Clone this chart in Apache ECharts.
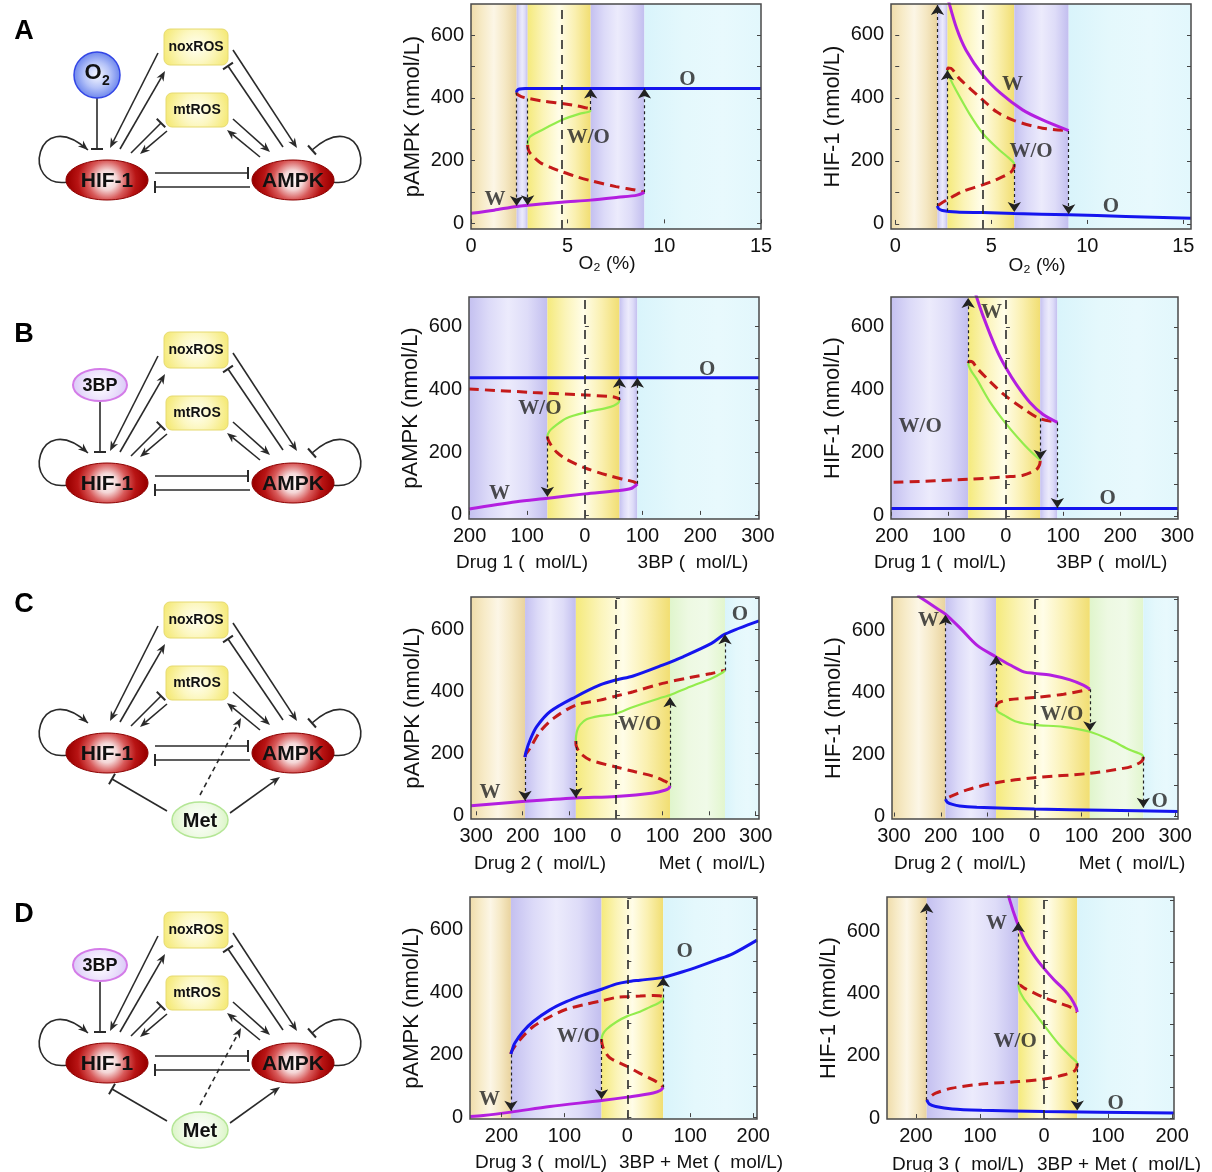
<!DOCTYPE html>
<html>
<head>
<meta charset="utf-8">
<title>HIF-1 / AMPK bistability</title>
<script src="https://cdn.jsdelivr.net/npm/echarts@6.0.0/dist/echarts.min.js"></script>
<style>
  html, body { margin: 0; padding: 0; background: #fff; }
  #chart { width: 1212px; height: 1172px; }
</style>
</head>
<body>
<div id="chart"></div>
<script>
// ---------- tick labels ----------
const xTicksA = [0, 5, 10, 15];
const xTicksB = [-200, -100, 0, 100, 200, 300];
const xTicksC = [-300, -200, -100, 0, 100, 200, 300];
const xTicksD = [-200, -100, 0, 100, 200];
const yTicks = [0, 200, 400, 600];
const yMinorTicks = [0, 100, 200, 300, 400, 500, 600, 700];
const panelLetters = ['A', 'B', 'C', 'D'];

// ---------- row A : O2 (%) ----------
const aL_bands = [[0, 2.36, 'tan'], [2.36, 2.93, 'lav'], [2.93, 6.19, 'yel'], [6.19, 8.97, 'lav'], [8.97, 15, 'cyan']];
const aL_blue = [[2.36, 417], [2.38, 423], [2.5, 428], [2.8, 430], [3.5, 430], [15, 430]];
const aL_redHi = [[2.36, 417], [2.4, 411], [2.6, 404], [2.97, 398], [3.8, 389], [4.69, 382], [5.5, 374], [5.95, 368], [6.15, 365], [6.19, 361]];
const aL_green = [[2.93, 250], [2.95, 262], [3.05, 276], [3.57, 294], [4.69, 329], [5.6, 349], [6.0, 354], [6.15, 357], [6.19, 361]];
const aL_redLo = [[2.93, 250], [2.95, 238], [3.05, 224], [3.57, 194], [4.2, 176], [4.69, 165], [5.5, 148], [6.19, 136], [7.5, 117], [8.5, 106], [8.97, 99]];
const aL_purple = [[0, 32], [1.2, 42], [2.36, 54], [4.69, 67], [6.19, 74], [7.6, 83], [8.6, 90], [8.97, 99]];
const aL_jumps = [[2.36, 417, 55], [2.93, 398, 58], [6.19, 361, 430], [8.97, 99, 430]];
const aL_labels = [[1.24, 76, 'W'], [6.07, 274, 'W/O'], [11.2, 457, 'O']];

const aR_bands = [[-0.22, 2.2, 'tan'], [2.2, 2.72, 'lav'], [2.72, 6.2, 'yel'], [6.2, 9.03, 'lav'], [9.03, 15.4, 'cyan']];
const aR_purple = [[2.7, 730], [2.81, 700], [3.2, 620], [3.68, 552], [4.55, 473], [5.5, 414], [6.63, 362], [7.67, 330], [9.03, 296]];
const aR_redHi = [[2.72, 488], [2.75, 495], [2.9, 494], [3.33, 462], [4.55, 394], [5.3, 355], [6.2, 328], [7.67, 304], [9.03, 296]];
const aR_green = [[2.72, 488], [2.74, 478], [2.85, 462], [3.16, 425], [3.85, 351], [4.55, 288], [5.24, 245], [5.94, 208], [6.15, 196], [6.2, 190]];
const aR_redLo = [[6.2, 190], [6.17, 178], [6.0, 163], [5.24, 140], [4.55, 124], [3.5, 103], [2.73, 78], [2.3, 62], [2.2, 57]];
const aR_blue = [[2.2, 57], [2.25, 49], [2.45, 43], [3.2, 38], [4.55, 36], [6.2, 33], [9.03, 29], [12, 24], [15.4, 18]];
const aR_jumps = [[2.2, 57, 695], [2.72, 40, 488], [6.2, 190, 38], [9.03, 295, 31]];
const aR_labels = [[6.11, 441, 'W'], [7.07, 230, 'W/O'], [11.23, 55, 'O']];

// ---------- row B : Drug 1 / 3BP ----------
const bL_bands = [[-201, -65, 'lav'], [-65, 60, 'yel'], [60, 91, 'lav'], [91, 302, 'cyan']];
const bL_blue = [[-201, 437], [302, 437]];
const bL_redHi = [[-201, 401], [-90, 390], [0, 382], [43, 377], [52, 375], [58, 371], [60, 365]];
const bL_green = [[60, 365], [58, 357], [50, 348], [38, 341], [0, 326], [-32, 308], [-52, 283], [-60, 270], [-64, 258], [-65, 250]];
const bL_redLo = [[-65, 250], [-64, 241], [-60, 226], [-49, 200], [-32, 177], [0, 150], [38, 127], [70, 112], [84, 106], [91, 99]];
const bL_purple = [[-201, 19], [-119, 42], [-64, 53], [0, 67], [55, 77], [80, 84], [91, 99]];
const bL_jumps = [[-65, 250, 58], [60, 365, 437], [91, 99, 437]];
const bL_labels = [[-148, 69, 'W'], [-78, 340, 'W/O'], [212, 464, 'O']];

const bR_bands = [[-201, -66, 'lav'], [-66, 60, 'yel'], [60, 90, 'lav'], [90, 301, 'cyan']];
const bR_blue = [[-201, 23], [301, 23]];
const bR_purple = [[-54, 710], [-40, 635], [-16, 526], [0, 470], [19, 415], [42, 360], [65, 322], [90, 297]];
const bR_redHi = [[-66, 485], [-64, 491], [-58, 488], [-51, 470], [-28, 427], [0, 380], [30, 341], [59, 309], [90, 297]];
const bR_green = [[-66, 485], [-65, 476], [-60, 458], [-51, 434], [-28, 362], [0, 293], [30, 230], [52, 190], [59, 180], [60, 175]];
const bR_redLo = [[60, 175], [59, 163], [55, 150], [48, 141], [30, 129], [0, 124], [-66, 116], [-201, 106]];
const bR_jumps = [[-66, 485, 692], [60, 309, 178], [90, 297, 25]];
const bR_labels = [[-25, 644, 'W'], [-150, 283, 'W/O'], [178, 55, 'O']];

// ---------- row C : Drug 2 / Met ----------
const cL_bands = [[-311, -195, 'tan'], [-195, -86, 'lav'], [-86, 116, 'yel'], [116, 234, 'grn'], [234, 307, 'cyan']];
const cL_blue = [[-195, 188], [-193, 205], [-184, 244], [-170, 286], [-141, 335], [-86, 383], [-34, 421], [0, 437], [37, 450], [100, 485], [144, 512], [205, 555], [234, 585], [307, 628]];
const cL_redHi = [[-195, 188], [-194, 196], [-184, 217], [-163, 270], [-134, 313], [-86, 356], [-34, 372], [0, 385], [37, 399], [100, 426], [159, 445], [205, 458], [228, 466], [234, 468]];
const cL_green = [[234, 468], [230, 462], [205, 442], [159, 415], [116, 388], [100, 381], [37, 350], [0, 328], [-34, 321], [-63, 310], [-77, 292], [-83, 274], [-85.5, 256], [-86, 240]];
const cL_redLo = [[-86, 240], [-85.5, 226], [-82, 213], [-77, 201], [-56, 179], [0, 156], [37, 142], [80, 126], [105, 110], [114, 102], [116, 95]];
const cL_purple = [[-311, 31], [-195, 45], [-86, 56], [0, 61], [80, 72], [105, 81], [114, 88], [116, 95]];
const cL_jumps = [[-195, 185, 47], [-86, 240, 57], [116, 95, 381], [234, 468, 585]];
const cL_labels = [[-270, 72, 'W'], [51, 292, 'W/O'], [266, 649, 'O']];

const cR_bands = [[-304, -190, 'tan'], [-190, -82, 'lav'], [-82, 118, 'yel'], [118, 232, 'grn'], [232, 306, 'cyan']];
const cR_purple = [[-250, 712], [-208, 670], [-190, 652], [-158, 606], [-123, 552], [-82, 514], [-52, 488], [-23, 466], [0, 461], [33, 456], [76, 440], [104, 423], [118, 410]];
const cR_redHi = [[-82, 352], [-80, 362], [-75, 368], [-52, 377], [0, 383], [62, 394], [118, 410]];
const cR_green = [[-82, 352], [-80, 342], [-77, 336], [-66, 327], [-38, 305], [0, 295], [62, 289], [118, 273], [161, 247], [204, 214], [222, 204], [230, 198], [232, 192]];
const cR_redLo = [[232, 192], [231, 183], [226, 175], [210, 163], [189, 155], [118, 139], [0, 125], [-82, 109], [-144, 86], [-180, 64], [-190, 56]];
const cR_blue = [[-190, 56], [-186, 46], [-175, 39], [-160, 34], [-123, 30], [0, 24], [150, 20], [306, 16]];
const cR_jumps = [[-190, 56, 650], [-82, 352, 518], [118, 410, 275], [232, 193, 28]];
const cR_labels = [[-226, 632, 'W'], [58, 327, 'W/O'], [267, 48, 'O']];

// ---------- row D : Drug 3 / 3BP + Met ----------
const dL_bands = [[-250, -185, 'tan'], [-185, -41, 'lav'], [-41, 57, 'yel'], [57, 206, 'cyan']];
const dL_blue = [[-185, 202], [-183, 215], [-179, 236], [-166, 273], [-150, 305], [-123, 343], [-97, 369], [-70, 390], [-41, 409], [-17, 426], [0, 433], [20, 438], [57, 447], [88, 465], [115, 483], [141, 502], [168, 523], [206, 566]];
const dL_redHi = [[-185, 202], [-184, 210], [-171, 247], [-150, 289], [-123, 321], [-97, 345], [-70, 359], [-41, 372], [-17, 383], [0, 385], [20, 387], [41, 389], [50, 388], [56, 386], [57, 382]];
const dL_green = [[57, 382], [56, 374], [49, 364], [35, 351], [20, 337], [0, 323], [-17, 305], [-33, 281], [-39, 265], [-41, 250]];
const dL_redLo = [[-41, 250], [-40.5, 237], [-38, 220], [-28, 190], [0, 162], [20, 140], [41, 119], [53, 104], [57, 95]];
const dL_purple = [[-250, 2], [-229, 5], [-185, 16], [-123, 34], [-41, 53], [0, 64], [41, 77], [53, 86], [57, 95]];
const dL_jumps = [[-185, 200, 20], [-41, 250, 57], [57, 95, 447]];
const dL_labels = [[-219, 55, 'W'], [-78, 257, 'W/O'], [91, 529, 'O']];

const dR_bands = [[-245, -183, 'tan'], [-183, -40, 'lav'], [-40, 52, 'yel'], [52, 203, 'cyan']];
const dR_purple = [[-56, 725], [-54, 703], [-43, 634], [-30, 570], [-14, 517], [0, 480], [16, 443], [32, 411], [42, 385], [50, 355], [52, 340]];
const dR_redHi = [[-40, 428], [-37, 426], [-30, 416], [-14, 400], [0, 387], [22, 370], [42, 355], [52, 340]];
const dR_green = [[-40, 428], [-38, 408], [-33, 388], [-30, 378], [-14, 336], [0, 298], [22, 240], [42, 197], [50, 182], [52, 176]];
const dR_redLo = [[52, 176], [51.5, 165], [48, 152], [32, 139], [0, 125], [-40, 117], [-97, 109], [-143, 96], [-169, 80], [-180, 64], [-183, 58]];
const dR_blue = [[-183, 58], [-179, 45], [-169, 37], [-143, 29], [-97, 25], [0, 21], [203, 16]];
const dR_jumps = [[-183, 58, 690], [-40, 428, 628], [52, 176, 24]];
const dR_labels = [[-74, 624, 'W'], [-45, 245, 'W/O'], [112, 48, 'O']];

// ---------- layout ----------
const FONT = '"Liberation Sans", Arial, Helvetica, sans-serif';
const SERIF = '"Liberation Serif", "Times New Roman", serif';
const INK = '#2a2a2a';

const panels = [
  { box: [471, 4, 290, 225], x: [0, 15], y: [-18, 699], xt: xTicksA, yName: 'pAMPK (nmol/L)', ref: 4.7,
    bands: aL_bands, blue: aL_blue, redHi: aL_redHi, green: aL_green, redLo: aL_redLo, purple: aL_purple, jumps: aL_jumps, labels: aL_labels,
    xNames: [['O₂ (%)', 607, 264]] },
  { box: [891, 4, 300, 225], x: [-0.22, 15.4], y: [-16, 698], xt: xTicksA, yName: 'HIF-1 (nmol/L)', ref: 4.55,
    bands: aR_bands, blue: aR_blue, redHi: aR_redHi, green: aR_green, redLo: aR_redLo, purple: aR_purple, jumps: aR_jumps, labels: aR_labels,
    xNames: [['O₂ (%)', 1037, 266]] },
  { box: [469, 297, 290, 222], x: [-201, 302], y: [-13, 694], xt: xTicksB, yName: 'pAMPK (nmol/L)', ref: 0,
    bands: bL_bands, blue: bL_blue, redHi: bL_redHi, green: bL_green, redLo: bL_redLo, purple: bL_purple, jumps: bL_jumps, labels: bL_labels,
    xNames: [['Drug 1 (  mol/L)', 522, 563], ['3BP (  mol/L)', 693, 563]] },
  { box: [891, 297, 287, 222], x: [-201, 301], y: [-10, 695], xt: xTicksB, yName: 'HIF-1 (nmol/L)', ref: 0,
    bands: bR_bands, blue: bR_blue, redHi: bR_redHi, green: bR_green, redLo: bR_redLo, purple: bR_purple, jumps: bR_jumps, labels: bR_labels,
    xNames: [['Drug 1 (  mol/L)', 940, 563], ['3BP (  mol/L)', 1112, 563]] },
  { box: [471, 597, 288, 222], x: [-311, 307], y: [-12, 705], xt: xTicksC, yName: 'pAMPK (nmol/L)', ref: 0,
    bands: cL_bands, blue: cL_blue, redHi: cL_redHi, green: cL_green, redLo: cL_redLo, purple: cL_purple, jumps: cL_jumps, labels: cL_labels,
    xNames: [['Drug 2 (  mol/L)', 540, 864], ['Met (  mol/L)', 712, 864]] },
  { box: [892, 597, 286, 222], x: [-304, 306], y: [-8, 707], xt: xTicksC, yName: 'HIF-1 (nmol/L)', ref: 0,
    bands: cR_bands, blue: cR_blue, redHi: cR_redHi, green: cR_green, redLo: cR_redLo, purple: cR_purple, jumps: cR_jumps, labels: cR_labels,
    xNames: [['Drug 2 (  mol/L)', 960, 864], ['Met (  mol/L)', 1132, 864]] },
  { box: [470, 897, 287, 222], x: [-250, 206], y: [-6, 704], xt: xTicksD, yName: 'pAMPK (nmol/L)', ref: 0,
    bands: dL_bands, blue: dL_blue, redHi: dL_redHi, green: dL_green, redLo: dL_redLo, purple: dL_purple, jumps: dL_jumps, labels: dL_labels,
    xNames: [['Drug 3 (  mol/L)', 541, 1163], ['3BP + Met (  mol/L)', 701, 1163]] },
  { box: [887, 897, 287, 222], x: [-245, 203], y: [-3, 709], xt: xTicksD, yName: 'HIF-1 (nmol/L)', ref: 0,
    bands: dR_bands, blue: dR_blue, redHi: dR_redHi, green: dR_green, redLo: dR_redLo, purple: dR_purple, jumps: dR_jumps, labels: dR_labels,
    xNames: [['Drug 3 (  mol/L)', 958, 1165], ['3BP + Met (  mol/L)', 1119, 1165]] }
];

function hGrad(colors) {
  return { type: 'linear', x: 0, y: 0, x2: 1, y2: 0,
    colorStops: colors.map((c, i) => ({ offset: i / (colors.length - 1), color: c })) };
}
function rGrad(colors, r) {
  return { type: 'radial', x: 0.5, y: 0.5, r: r,
    colorStops: colors.map((c, i) => ({ offset: i / (colors.length - 1), color: c })) };
}
const BAND = {
  tan: hGrad(['#efdcaa', '#f7ebc8', '#fcf6e6', '#f5e8c4', '#e9d39e']),
  lav: hGrad(['#c4c0f0', '#dcdaf8', '#ecebfc', '#dedcf8', '#c2beef']),
  yel: hGrad(['#f5ea7c', '#fbf4b8', '#fffde8', '#faf0b0', '#f1de72']),
  grn: hGrad(['#e0f5cc', '#edf9e2', '#f0fae8', '#e2f6ce']),
  cyan: hGrad(['#d9f4fb', '#e4f8fc', '#e8f9fd', '#e2f7fc'])
};

const grids = [], xAxes = [], yAxes = [], series = [], graphics = [];

function curve(i, data, color, width, dashed, z) {
  return { type: 'line', xAxisIndex: i, yAxisIndex: 2 * i, data: data, smooth: 0.3,
    showSymbol: false, symbol: 'none', silent: true, z: z,
    lineStyle: { color: color, width: width, type: dashed ? [10, 6] : 'solid', cap: 'butt' } };
}

panels.forEach((p, i) => {
  const [left, top, width, height] = p.box;
  grids.push({ left, top, width, height, show: true, borderColor: '#4a4a4a', borderWidth: 1.5,
    backgroundColor: 'rgba(0,0,0,0)', z: 10 });
  const minor = yMinorTicks.filter(v => v >= p.y[0] && v <= p.y[1]);
  xAxes.push({ type: 'value', gridIndex: i, min: p.x[0], max: p.x[1], z: 12,
    axisLine: { show: false }, splitLine: { show: false },
    axisTick: { show: true, inside: true, length: 4, customValues: p.xt, lineStyle: { color: '#444' } },
    axisLabel: { customValues: p.xt, formatter: v => String(Math.abs(v)), fontSize: 20, color: '#111',
      fontFamily: FONT, margin: 7 } });
  yAxes.push({ type: 'value', gridIndex: i, min: p.y[0], max: p.y[1], z: 12,
    axisLine: { show: false }, splitLine: { show: false },
    axisTick: { show: true, inside: true, length: 4, customValues: minor, lineStyle: { color: '#444' } },
    axisLabel: { customValues: yTicks, fontSize: 20, color: '#111', fontFamily: FONT, margin: 7 },
    name: p.yName, nameLocation: 'middle', nameGap: 47,
    nameTextStyle: { fontSize: 22, color: '#111', fontFamily: FONT } });
  yAxes.push({ type: 'value', gridIndex: i, position: 'right', min: p.y[0], max: p.y[1], z: 12,
    axisLine: { show: false }, splitLine: { show: false }, axisLabel: { show: false },
    axisTick: { show: true, inside: true, length: 4, customValues: minor, lineStyle: { color: '#444' } } });

  // shaded regime bands
  series.push({ type: 'line', xAxisIndex: i, yAxisIndex: 2 * i, data: [], silent: true, z: 1,
    markArea: { silent: true,
      data: p.bands.map(b => [{ xAxis: b[0], itemStyle: { color: BAND[b[2]], opacity: 1, borderWidth: 0 } }, { xAxis: b[1] }]) } });
  // reference dashed line
  series.push({ type: 'line', xAxisIndex: i, yAxisIndex: 2 * i, data: [], silent: true, z: 2,
    markLine: { silent: true, symbol: ['none', 'none'], label: { show: false },
      lineStyle: { color: '#2a2a2a', width: 1.6, type: [9, 6] }, data: [{ xAxis: p.ref }] } });

  series.push(curve(i, p.redHi, '#c41a1a', 3, true, 3));
  series.push(curve(i, p.redLo, '#c41a1a', 3, true, 3));
  series.push(curve(i, p.green, '#93ec4c', 2.2, false, 3));
  series.push(curve(i, p.purple, '#b31fe0', 3, false, 3));
  series.push(curve(i, p.blue, '#1515ee', 3, false, 3));

  // transitions
  series.push({ type: 'lines', coordinateSystem: 'cartesian2d', xAxisIndex: i, yAxisIndex: 2 * i,
    symbol: ['none', 'arrow'], symbolSize: 10, silent: true, z: 4,
    lineStyle: { color: '#222', width: 1.2, type: [3, 3], opacity: 1 },
    data: p.jumps.map(j => ({ coords: [[j[0], j[1]], [j[0], j[2]]] })) });

  // regime labels
  series.push({ type: 'scatter', xAxisIndex: i, yAxisIndex: 2 * i, symbolSize: 1, silent: true, z: 5,
    itemStyle: { color: 'rgba(0,0,0,0)' },
    label: { show: true, position: 'inside', formatter: '{b}', fontFamily: SERIF, fontWeight: 'bold',
      fontSize: 21, color: '#222' },
    data: p.labels.map(l => ({ value: [l[0], l[1]], name: l[2] })) });

  p.xNames.forEach(n => {
    graphics.push({ type: 'text', x: n[1], y: n[2], silent: true,
      style: { text: n[0], font: '19px ' + FONT, fill: '#111', align: 'center', verticalAlign: 'middle',
        textAlign: 'center', textVerticalAlign: 'middle' } });
  });
});

// ---------- network diagrams ----------
const rowY = [180, 483, 753, 1063];
const rowInput = ['O2', '3BP', null, '3BP'];
const rowMet = [false, false, true, true];

function txt(x, y, s, font, fill) {
  return { type: 'text', x: x, y: y, silent: true,
    style: { text: s, font: font, fill: fill || '#111', align: 'center', verticalAlign: 'middle',
      textAlign: 'center', textVerticalAlign: 'middle' } };
}
function seg(x1, y1, x2, y2, dashed, w) {
  return { type: 'line', silent: true, shape: { x1, y1, x2, y2 },
    style: { stroke: INK, lineWidth: w || 1.6, lineDash: dashed ? [5, 4] : null } };
}
function head(g, x2, y2, a, kind) {
  const c = Math.cos(a), s = Math.sin(a);
  if (kind === 'arrow') {
    g.push({ type: 'polygon', silent: true,
      shape: { points: [[x2, y2], [x2 - 10 * c - 4 * s, y2 - 10 * s + 4 * c], [x2 - 7 * c, y2 - 7 * s], [x2 - 10 * c + 4 * s, y2 - 10 * s - 4 * c]] },
      style: { fill: INK } });
  } else {
    g.push(seg(x2 - 6 * s, y2 + 6 * c, x2 + 6 * s, y2 - 6 * c, false, 2));
  }
}
function edge(g, x1, y1, x2, y2, kind, dashed) {
  const a = Math.atan2(y2 - y1, x2 - x1);
  const back = kind === 'arrow' ? 7 : 0;
  g.push(seg(x1, y1, x2 - back * Math.cos(a), y2 - back * Math.sin(a), dashed));
  head(g, x2, y2, a, kind);
}
function loop(g, p0, p1, p2, p3, kind) {
  g.push({ type: 'bezierCurve', silent: true,
    shape: { x1: p0[0], y1: p0[1], cpx1: p1[0], cpy1: p1[1], cpx2: p2[0], cpy2: p2[1], x2: p3[0], y2: p3[1] },
    style: { stroke: INK, lineWidth: 1.6, fill: 'none' } });
  head(g, p3[0], p3[1], Math.atan2(p3[1] - p2[1], p3[0] - p2[0]), kind);
}

const NODE_RED = rGrad(['#ffffff', '#f4d6d6', '#d85a5a', '#b81414', '#9c0000'], 0.95);
const BOX_YEL = rGrad(['#fffff2', '#fcf7c0', '#f5ea7a'], 0.9);

rowY.forEach((Y, r) => {
  const g = graphics;
  g.push(txt(24, Y - 148, panelLetters[r], 'bold 27px ' + FONT, '#000'));

  // edges
  edge(g, 158, Y - 127, 110, Y - 32, 'arrow');
  edge(g, 120, Y - 31, 165, Y - 109, 'arrow');
  edge(g, 131, Y - 27, 161, Y - 57, 'bar');
  edge(g, 167, Y - 49, 140, Y - 26, 'arrow');
  edge(g, 233, Y - 130, 297, Y - 32, 'arrow');
  edge(g, 283, Y - 33, 228, Y - 114, 'bar');
  edge(g, 233, Y - 61, 270, Y - 28, 'arrow');
  edge(g, 260, Y - 23, 227, Y - 50, 'arrow');
  edge(g, 155, Y - 7, 248, Y - 7, 'bar');
  edge(g, 250, Y + 7, 155, Y + 7, 'bar');
  loop(g, [68, Y + 2], [20, Y + 10], [36, Y - 76], [88, Y - 30], 'arrow');
  loop(g, [332, Y + 2], [380, Y + 10], [364, Y - 76], [312, Y - 30], 'bar');

  if (rowInput[r]) edge(g, rowInput[r] === 'O2' ? 97 : 100, Y - 82, rowInput[r] === 'O2' ? 97 : 100, Y - 31, 'bar');
  if (rowMet[r]) {
    edge(g, 167, Y + 58, 112, Y + 26, 'bar');
    edge(g, 230, Y + 60, 280, Y + 24, 'arrow');
    edge(g, 200, Y + 42, 241, Y - 35, 'arrow', true);
  }

  // nodes
  g.push({ type: 'ellipse', silent: true, shape: { cx: 107, cy: Y, rx: 41, ry: 20 },
    style: { fill: NODE_RED, stroke: '#8c0000', lineWidth: 1 } });
  g.push(txt(107, Y + 1, 'HIF-1', 'bold 21px ' + FONT));
  g.push({ type: 'ellipse', silent: true, shape: { cx: 293, cy: Y, rx: 41, ry: 20 },
    style: { fill: NODE_RED, stroke: '#8c0000', lineWidth: 1 } });
  g.push(txt(293, Y + 1, 'AMPK', 'bold 21px ' + FONT));
  g.push({ type: 'rect', silent: true, shape: { x: 164, y: Y - 151, width: 64, height: 36, r: 6 },
    style: { fill: BOX_YEL, stroke: '#e6da70', lineWidth: 1 } });
  g.push(txt(196, Y - 133, 'noxROS', 'bold 14px ' + FONT));
  g.push({ type: 'rect', silent: true, shape: { x: 166, y: Y - 87, width: 62, height: 34, r: 6 },
    style: { fill: BOX_YEL, stroke: '#e6da70', lineWidth: 1 } });
  g.push(txt(197, Y - 70, 'mtROS', 'bold 14px ' + FONT));

  if (rowInput[r] === 'O2') {
    g.push({ type: 'circle', silent: true, shape: { cx: 97, cy: Y - 105, r: 23 },
      style: { fill: rGrad(['#f6f8ff', '#b4c2f8', '#5a76ea'], 0.55), stroke: '#3346e6', lineWidth: 1.5 } });
    g.push(txt(93, Y - 107, 'O', 'bold 22px ' + FONT));
    g.push(txt(106, Y - 99, '2', 'bold 14px ' + FONT));
  } else if (rowInput[r] === '3BP') {
    g.push({ type: 'ellipse', silent: true, shape: { cx: 100, cy: Y - 98, rx: 27, ry: 16 },
      style: { fill: rGrad(['#ffffff', '#ece2fc', '#d6c2f6'], 0.9), stroke: '#d47ce8', lineWidth: 2 } });
    g.push(txt(100, Y - 97, '3BP', 'bold 18px ' + FONT));
  }
  if (rowMet[r]) {
    g.push({ type: 'ellipse', silent: true, shape: { cx: 200, cy: Y + 67, rx: 28, ry: 18 },
      style: { fill: rGrad(['#ffffff', '#eefae4', '#d2f2b8'], 0.9), stroke: '#b4e696', lineWidth: 1.5 } });
    g.push(txt(200, Y + 68, 'Met', 'bold 20px ' + FONT));
  }
});

const chart = echarts.init(document.getElementById('chart'), null, { renderer: 'canvas' });
chart.setOption({
  animation: false,
  backgroundColor: '#ffffff',
  grid: grids,
  xAxis: xAxes,
  yAxis: yAxes,
  series: series,
  graphic: { elements: graphics }
});
</script>
</body>
</html>
